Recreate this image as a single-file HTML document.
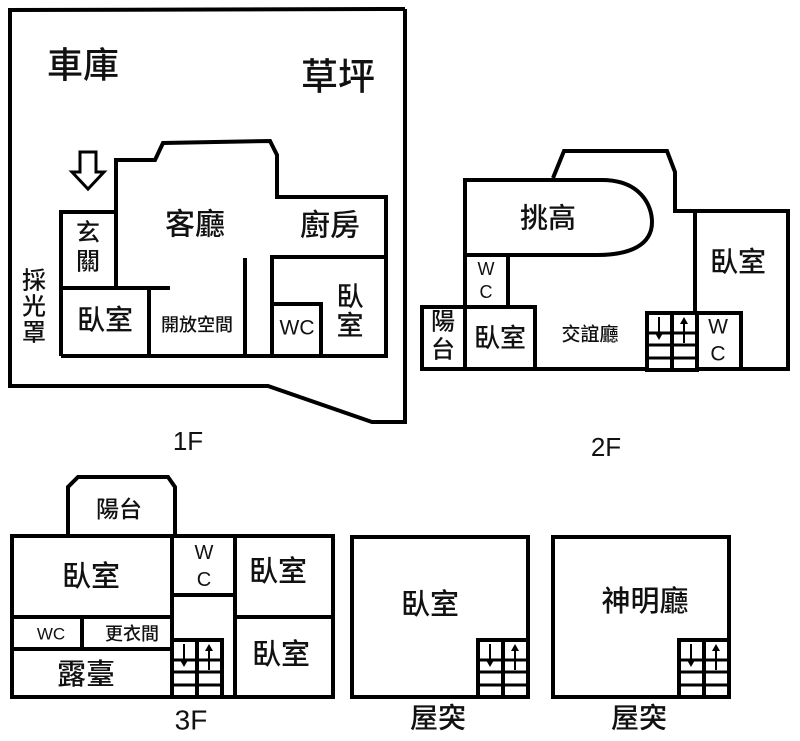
<!DOCTYPE html>
<html><head><meta charset="utf-8"><style>
html,body{margin:0;padding:0;background:#fff;}
svg{display:block;}
text{font-family:"Liberation Sans","Noto Sans CJK TC",sans-serif;fill:#111;text-anchor:middle;dominant-baseline:central;font-weight:500;}
</style></head><body>
<svg width="800" height="741" viewBox="0 0 800 741" xmlns="http://www.w3.org/2000/svg">
<defs>
<g id="stair">
  <rect x="0" y="0" width="50" height="57" fill="#fff" stroke="#000" stroke-width="4"/>
  <line x1="25" y1="0" x2="25" y2="57" stroke="#000" stroke-width="4"/>
  <line x1="0" y1="20" x2="50" y2="20" stroke="#000" stroke-width="3"/>
  <line x1="0" y1="32" x2="50" y2="32" stroke="#000" stroke-width="3"/>
  <line x1="0" y1="45" x2="50" y2="45" stroke="#000" stroke-width="3"/>
  <line x1="12" y1="4" x2="12" y2="22" stroke="#000" stroke-width="2"/>
  <polygon points="8,20 16,20 12,27" fill="#000"/>
  <line x1="37" y1="30" x2="37" y2="10" stroke="#000" stroke-width="2"/>
  <polygon points="33,11 41,11 37,4" fill="#000"/>
</g>
</defs>
<g fill="none" stroke="#000" stroke-width="4" stroke-linejoin="miter">
<polyline points="405,9 10,10 10,386 268,386 372,422 405,422 405,9"/>
<polyline points="61,356 61,212 116,212"/>
<polyline points="116,288 116,160 155,160 163,143 270,141 277,155 277,197 386,197 386,356 61,356"/>
<line x1="61" y1="288" x2="170" y2="288"/>
<line x1="149" y1="288" x2="149" y2="356"/>
<line x1="245" y1="258" x2="245" y2="354"/>
<polyline points="386,257 272,257 272,356"/>
<polyline points="272,304 321,304 321,356"/>
<path d="M465,305 L465,180 L602,180 C640,180 652,205 652,222 C652,245 630,255 597,255 L465,255"/>
<polyline points="553,178 564,151 667,151 675,172 675,211 788,211 788,369 422,369 422,307 535,307 535,369"/>
<line x1="465" y1="307" x2="465" y2="369"/>
<polyline points="508,255 508,305"/>
<line x1="695" y1="211" x2="695" y2="369"/>
<polyline points="695,313 741,313 741,369"/>
<rect x="12" y="536" width="321" height="161"/>
<polyline points="68,536 68,487 78,477 168,477 175,487 175,536"/>
<line x1="172" y1="536" x2="172" y2="697"/>
<line x1="12" y1="617" x2="172" y2="617"/>
<line x1="12" y1="649" x2="172" y2="649"/>
<line x1="82" y1="617" x2="82" y2="649"/>
<line x1="235" y1="536" x2="235" y2="697"/>
<line x1="172" y1="595" x2="235" y2="595"/>
<line x1="235" y1="617" x2="333" y2="617"/>
<rect x="352" y="537" width="176" height="160"/>
<rect x="553" y="537" width="176" height="160"/>
</g>
<polygon points="80,152 96,152 96,172 104,172 88,189 72,172 80,172" fill="#fff" stroke="#000" stroke-width="3"/>
<use href="#stair" x="647" y="313"/>
<use href="#stair" x="172" y="640"/>
<use href="#stair" x="478" y="640"/>
<use href="#stair" x="679" y="640"/>
<text x="83" y="65" font-size="36">車庫</text>
<text x="338" y="77" font-size="37">草坪</text>
<text x="195" y="225" font-size="30">客廳</text>
<text x="330" y="226" font-size="30">廚房</text>
<text x="88" y="233" font-size="24">玄</text>
<text x="88" y="262" font-size="24">關</text>
<text x="34" y="281" font-size="24">採</text>
<text x="34" y="307" font-size="24">光</text>
<text x="34" y="333" font-size="24">罩</text>
<text x="105" y="320" font-size="28">臥室</text>
<text x="197" y="325" font-size="18">開放空間</text>
<text x="297" y="328" font-size="21">WC</text>
<text x="350" y="297" font-size="27">臥</text>
<text x="350" y="326" font-size="27">室</text>
<text x="188" y="441" font-size="26">1F</text>
<text x="548" y="218" font-size="28">挑高</text>
<text x="486" y="269" font-size="18">W</text>
<text x="486" y="292" font-size="18">C</text>
<text x="443" y="322" font-size="24">陽</text>
<text x="443" y="350" font-size="24">台</text>
<text x="500" y="338" font-size="26">臥室</text>
<text x="590" y="335" font-size="19">交誼廳</text>
<text x="738" y="262" font-size="28">臥室</text>
<text x="718" y="327" font-size="21">W</text>
<text x="718" y="354" font-size="21">C</text>
<text x="606" y="447" font-size="26">2F</text>
<text x="119" y="509" font-size="23">陽台</text>
<text x="91" y="577" font-size="29">臥室</text>
<text x="204" y="553" font-size="20">W</text>
<text x="204" y="580" font-size="20">C</text>
<text x="278" y="572" font-size="29">臥室</text>
<text x="51" y="634" font-size="17">WC</text>
<text x="132" y="634" font-size="18">更衣間</text>
<text x="86" y="675" font-size="29">露臺</text>
<text x="281" y="655" font-size="29">臥室</text>
<text x="191" y="720" font-size="28">3F</text>
<text x="430" y="605" font-size="29">臥室</text>
<text x="438" y="718" font-size="28">屋突</text>
<text x="645" y="602" font-size="29">神明廳</text>
<text x="639" y="718" font-size="28">屋突</text>
</svg>
</body></html>
